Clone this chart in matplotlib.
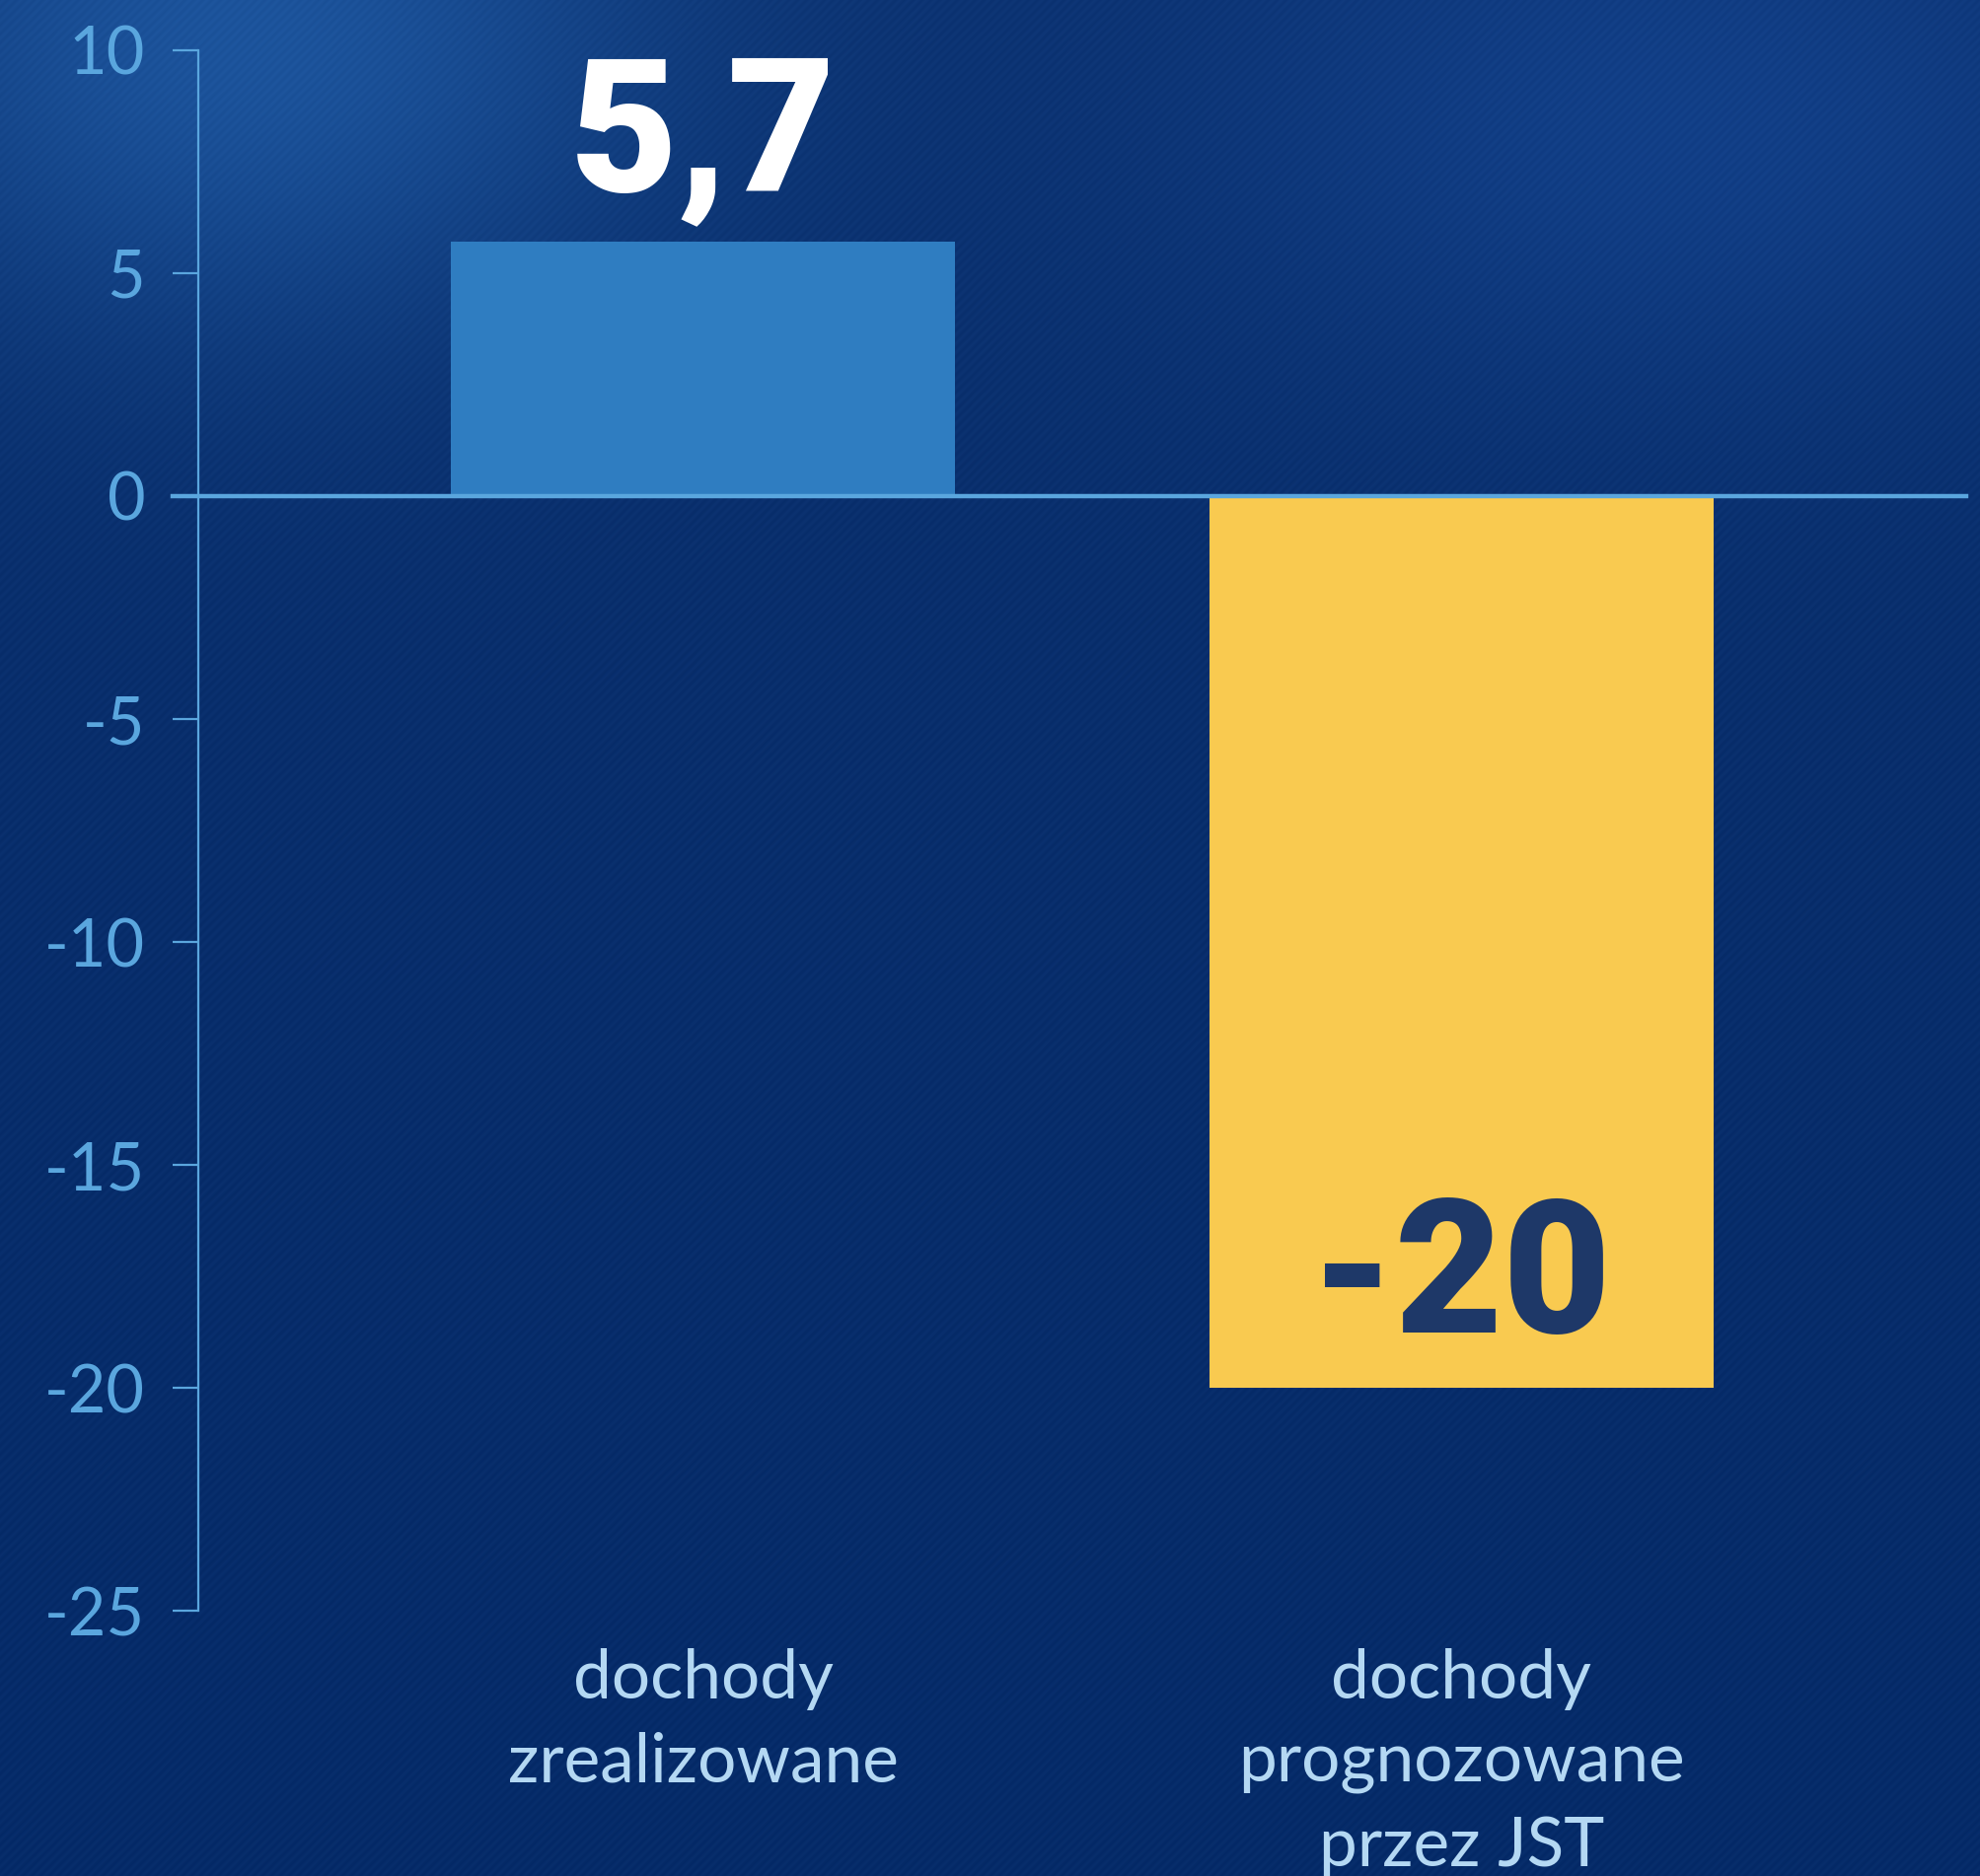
import numpy as np
import matplotlib.pyplot as plt
from matplotlib import font_manager

# data
categories = ['dochody\nzrealizowane', 'dochody\nprognozowane\nprzez JST']
values = [5.7, -20]
value_labels = ['5,7', '-20']
y_ticks = [10, 5, 0, -5, -10, -15, -20, -25]

bar_colors = ['#2f7dc1', '#f9ca50']
label_colors = ['#ffffff', '#1e3868']
axis_color = '#5aa6de'
cat_color = '#b4d8f3'

names = {f.name for f in font_manager.fontManager.ttflist}
base_font = 'Lato' if 'Lato' in names else 'DejaVu Sans'


def heaviest(fams):
    best = None
    for fam in fams:
        ws = [f.weight for f in font_manager.fontManager.ttflist
              if f.name == fam and f.style == 'normal']
        ws = [w if isinstance(w, int) else 700 for w in ws]
        if ws and max(ws) >= 800:
            return fam, max(ws)
        if ws and best is None:
            best = (fam, max(ws))
    return best or ('DejaVu Sans', 'bold')


heavy_font, heavy_weight = heaviest(['Roboto', 'Inter', 'Lato', 'Open Sans'])

W, H = 2008, 1902
fig = plt.figure(figsize=(W / 100, H / 100), dpi=100)

# background: navy gradient with soft glows and fine diagonal stripes
bg_ax = fig.add_axes([0, 0, 1, 1])
yy, xx = np.mgrid[0:H, 0:W].astype(float)
base = np.array([0.035, 0.18, 0.42])
img = np.ones((H, W, 3)) * base
glow1 = np.exp(-(((xx - 250) / 420) ** 2 + ((yy - 40) / 300) ** 2))
glow2 = np.exp(-(((xx - 1700) / 500) ** 2 + ((yy - 120) / 300) ** 2))
img += glow1[..., None] * np.array([0.07, 0.14, 0.18])
img += glow2[..., None] * np.array([0.03, 0.06, 0.10])
dark = np.clip(yy / H, 0, 1)
img -= (dark * 0.02)[..., None]
stripes = 0.5 + 0.5 * np.sin((xx + yy) * 2 * np.pi / 9.0)
img += (stripes * 0.022)[..., None] * np.array([0.6, 0.8, 1.0])
bg_ax.imshow(np.clip(img, 0, 1), aspect='auto', extent=[0, 1, 0, 1], zorder=0)
bg_ax.axis('off')

ax = fig.add_axes([0.1001, 0.1414, 0.8924, 0.8318])
ax.patch.set_alpha(0)

x = np.arange(len(values))
ax.bar(x, values, width=0.665, color=bar_colors, zorder=2)
ax.axhline(0, xmin=-0.0145, xmax=1, color=axis_color, linewidth=3.2,
           clip_on=False, zorder=3)

ax.set_xlim(-0.666, 1.666)
ax.set_ylim(-25, 10)
ax.set_yticks(y_ticks)
ax.set_yticklabels([str(t) for t in y_ticks])

for s in ['top', 'right', 'bottom']:
    ax.spines[s].set_visible(False)
ax.spines['left'].set_color(axis_color)
ax.spines['left'].set_linewidth(1.6)

ax.tick_params(axis='y', colors=axis_color, length=18.7, width=1.6, pad=20,
               labelsize=48)
for lab in ax.get_yticklabels():
    lab.set_fontfamily(base_font)

ax.set_xticks(x)
ax.set_xticklabels(categories, fontsize=50, color=cat_color,
                   fontfamily=base_font, linespacing=1.43)
ax.tick_params(axis='x', length=0, pad=27)

label_y = [8.0, -17.6]
for xi, ly, txt, col in zip(x, label_y, value_labels, label_colors):
    ax.text(xi, ly, txt, ha='center', va='center', fontsize=136,
            color=col, fontfamily=heavy_font, fontweight=heavy_weight, zorder=4)

fig.savefig('out.png', dpi=100)
